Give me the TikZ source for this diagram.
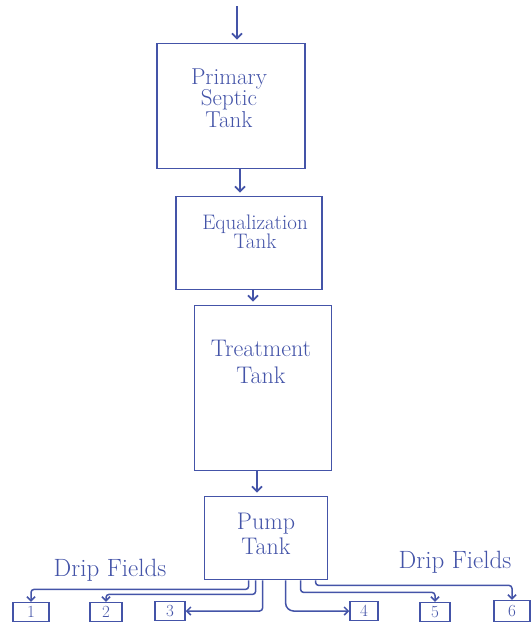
\documentclass[tikz,border=0pt]{standalone}
\usepackage{fontspec}
\setmainfont{Latin Modern Roman}
\usetikzlibrary{arrows.meta}
\definecolor{hand}{RGB}{68,84,168}
\begin{document}
\begin{tikzpicture}[x=1pt,y=-1pt,
  tank/.style={draw=hand,line width=1.8pt,inner sep=0pt},
  field/.style={draw=hand,line width=1.5pt,inner sep=0pt,text=hand,font=\fontsize{17}{17}\selectfont},
  lbl/.style={text=hand,font=\fontsize{24}{21}\selectfont,align=center},
  arr/.style={draw=hand,line width=1.7pt,-{Straight Barb[length=5pt,width=10pt]},shorten >=3pt},
  pipe/.style={draw=hand,line width=1.5pt,rounded corners=3pt,-{Straight Barb[length=4pt,width=8pt]}}]
\useasboundingbox (0,0) rectangle (532,622);
% tanks
\node[tank,minimum width=148pt,minimum height=125pt] (prim) at (231,106) {};
\node[tank,minimum width=146pt,minimum height=93pt] (eq) at (249,243) {};
\node[tank,minimum width=137pt,minimum height=165pt] (treat) at (263,388) {};
\node[tank,minimum width=123pt,minimum height=83pt] (pump) at (266,538) {};
% labels
\node[lbl,font=\fontsize{23}{20}\selectfont] (tprim) at (229,98) {Primary\\Septic\\Tank};
\node[lbl,font=\fontsize{21}{19}\selectfont] (teq) at (255,232) {Equalization\\Tank};
\node[lbl,font=\fontsize{24}{27}\selectfont] (ttreat) at (261,362) {Treatment\\Tank};
\node[lbl,font=\fontsize{24}{25}\selectfont] (tpump) at (266,534) {Pump\\Tank};
\node[lbl,font=\fontsize{25}{25}\selectfont] (dl) at (110,570) {Drip Fields};
\node[lbl,font=\fontsize{25}{25}\selectfont] (dr) at (455,562) {Drip Fields};
% fields
\node[field,minimum width=36pt,minimum height=19pt] (f1) at (31,612) {1};
\node[field,minimum width=32pt,minimum height=19pt] (f2) at (106,612) {2};
\node[field,minimum width=30pt,minimum height=19pt] (f3) at (170,611) {3};
\node[field,minimum width=28pt,minimum height=19pt] (f4) at (364,611) {4};
\node[field,minimum width=30pt,minimum height=19pt] (f5) at (435,612) {5};
\node[field,minimum width=36pt,minimum height=21pt] (f6) at (512,611) {6};
% flow arrows
\coordinate (in) at (237,6);
\draw[arr] (in) -- (in |- prim.north);
\draw[arr] ([xshift=9pt]prim.south) -- ([xshift=9pt]prim.south |- eq.north);
\draw[arr] ([xshift=4pt]eq.south) -- ([xshift=4pt]eq.south |- treat.north);
\draw[arr] ([xshift=-6pt]treat.south) -- ([xshift=-6pt]treat.south |- pump.north);
% pipes
\draw[pipe] ([xshift=45pt]pump.south west) -- ++(0,9) -| (f1.north);
\draw[pipe] ([xshift=52pt]pump.south west) -- ++(0,14) -| (f2.north);
\draw[pipe] ([xshift=59pt]pump.south west) |- (f3.east);
\draw[pipe,rounded corners=8pt] ([xshift=82pt]pump.south west) |- (f4.west);
\draw[pipe] ([xshift=97pt]pump.south west) -- ++(0,12) -| (f5.north);
\draw[pipe] ([xshift=112pt]pump.south west) -- ++(0,5) -| (f6.north);
\end{tikzpicture}
\end{document}
